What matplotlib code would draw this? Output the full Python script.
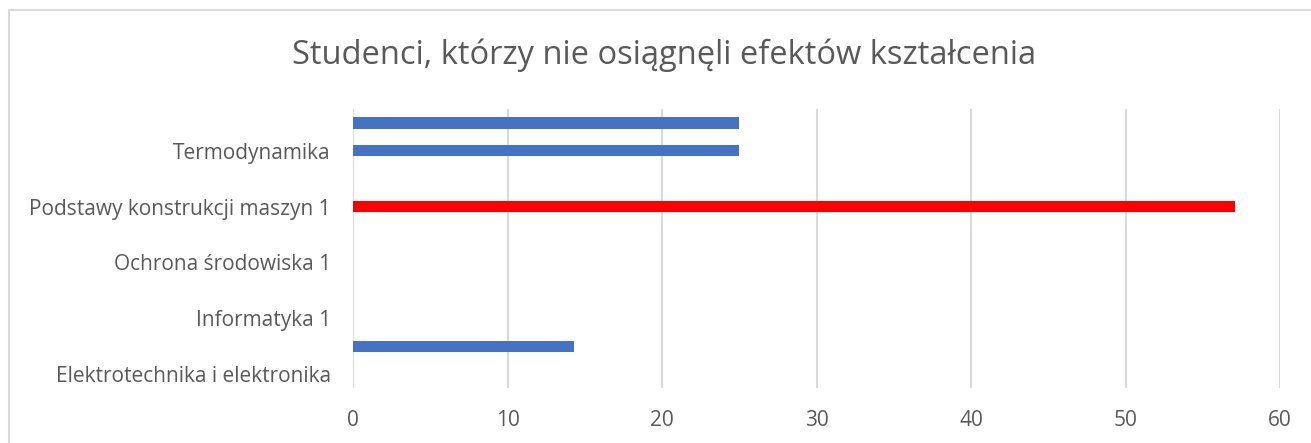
import matplotlib.pyplot as plt
from matplotlib.patches import Rectangle

# ── Data ──────────────────────────────────────────────────────────────────────
# Excel shows only every second category label; hidden ones are kept as ""
categories = [
    "Elektrotechnika i elektronika", "",
    "Informatyka 1", "",
    "Ochrona środowiska 1", "",
    "Podstawy konstrukcji maszyn 1", "",
    "Termodynamika", "",
]
values = [0, 14.3, 0, 0, 0, 0, 57.1, 0, 25, 25]
highlight = "Podstawy konstrukcji maszyn 1"
x_ticks = [0, 10, 20, 30, 40, 50, 60]
title = "Studenci, którzy nie osiągnęli efektów kształcenia"

BLUE = "#4472C4"
RED = "#FF0000"
TEXT = "#595959"
GRID = "#D9D9D9"

plt.rcParams["font.family"] = ["Open Sans", "DejaVu Sans"]

fig = plt.figure(figsize=(13.11, 4.43), dpi=100)
ax = fig.add_axes([353 / 1311, 1 - 388 / 443, 927 / 1311, 279 / 443])

colors = [RED if c == highlight else BLUE for c in categories]
ax.barh(range(len(categories)), values, height=0.4, color=colors, zorder=3)

ax.set_ylim(-0.5, len(categories) - 0.5)
ax.set_xlim(0, 60)
ax.set_xticks(x_ticks)
ax.set_yticks(range(len(categories)))
ax.set_yticklabels(categories)

ax.grid(axis="x", color=GRID, lw=1.5, zorder=0)
ax.axvline(0, color=GRID, lw=1.5, zorder=1)
for s in ax.spines.values():
    s.set_visible(False)
ax.tick_params(length=0, colors=TEXT, labelsize=15)
ax.tick_params(axis="y", pad=16)
ax.tick_params(axis="x", pad=16)

fig.text(664 / 1311, 1 - 55 / 443, title, ha="center", va="center",
         fontsize=23.5, color=TEXT)

# chart area border
fig.patches.append(Rectangle((9 / 1311, -0.1), 1.2, 1 - 10 / 443 + 0.1,
                             transform=fig.transFigure, fill=False,
                             edgecolor=GRID, lw=1.5))

fig.savefig("out.png", dpi=100)
